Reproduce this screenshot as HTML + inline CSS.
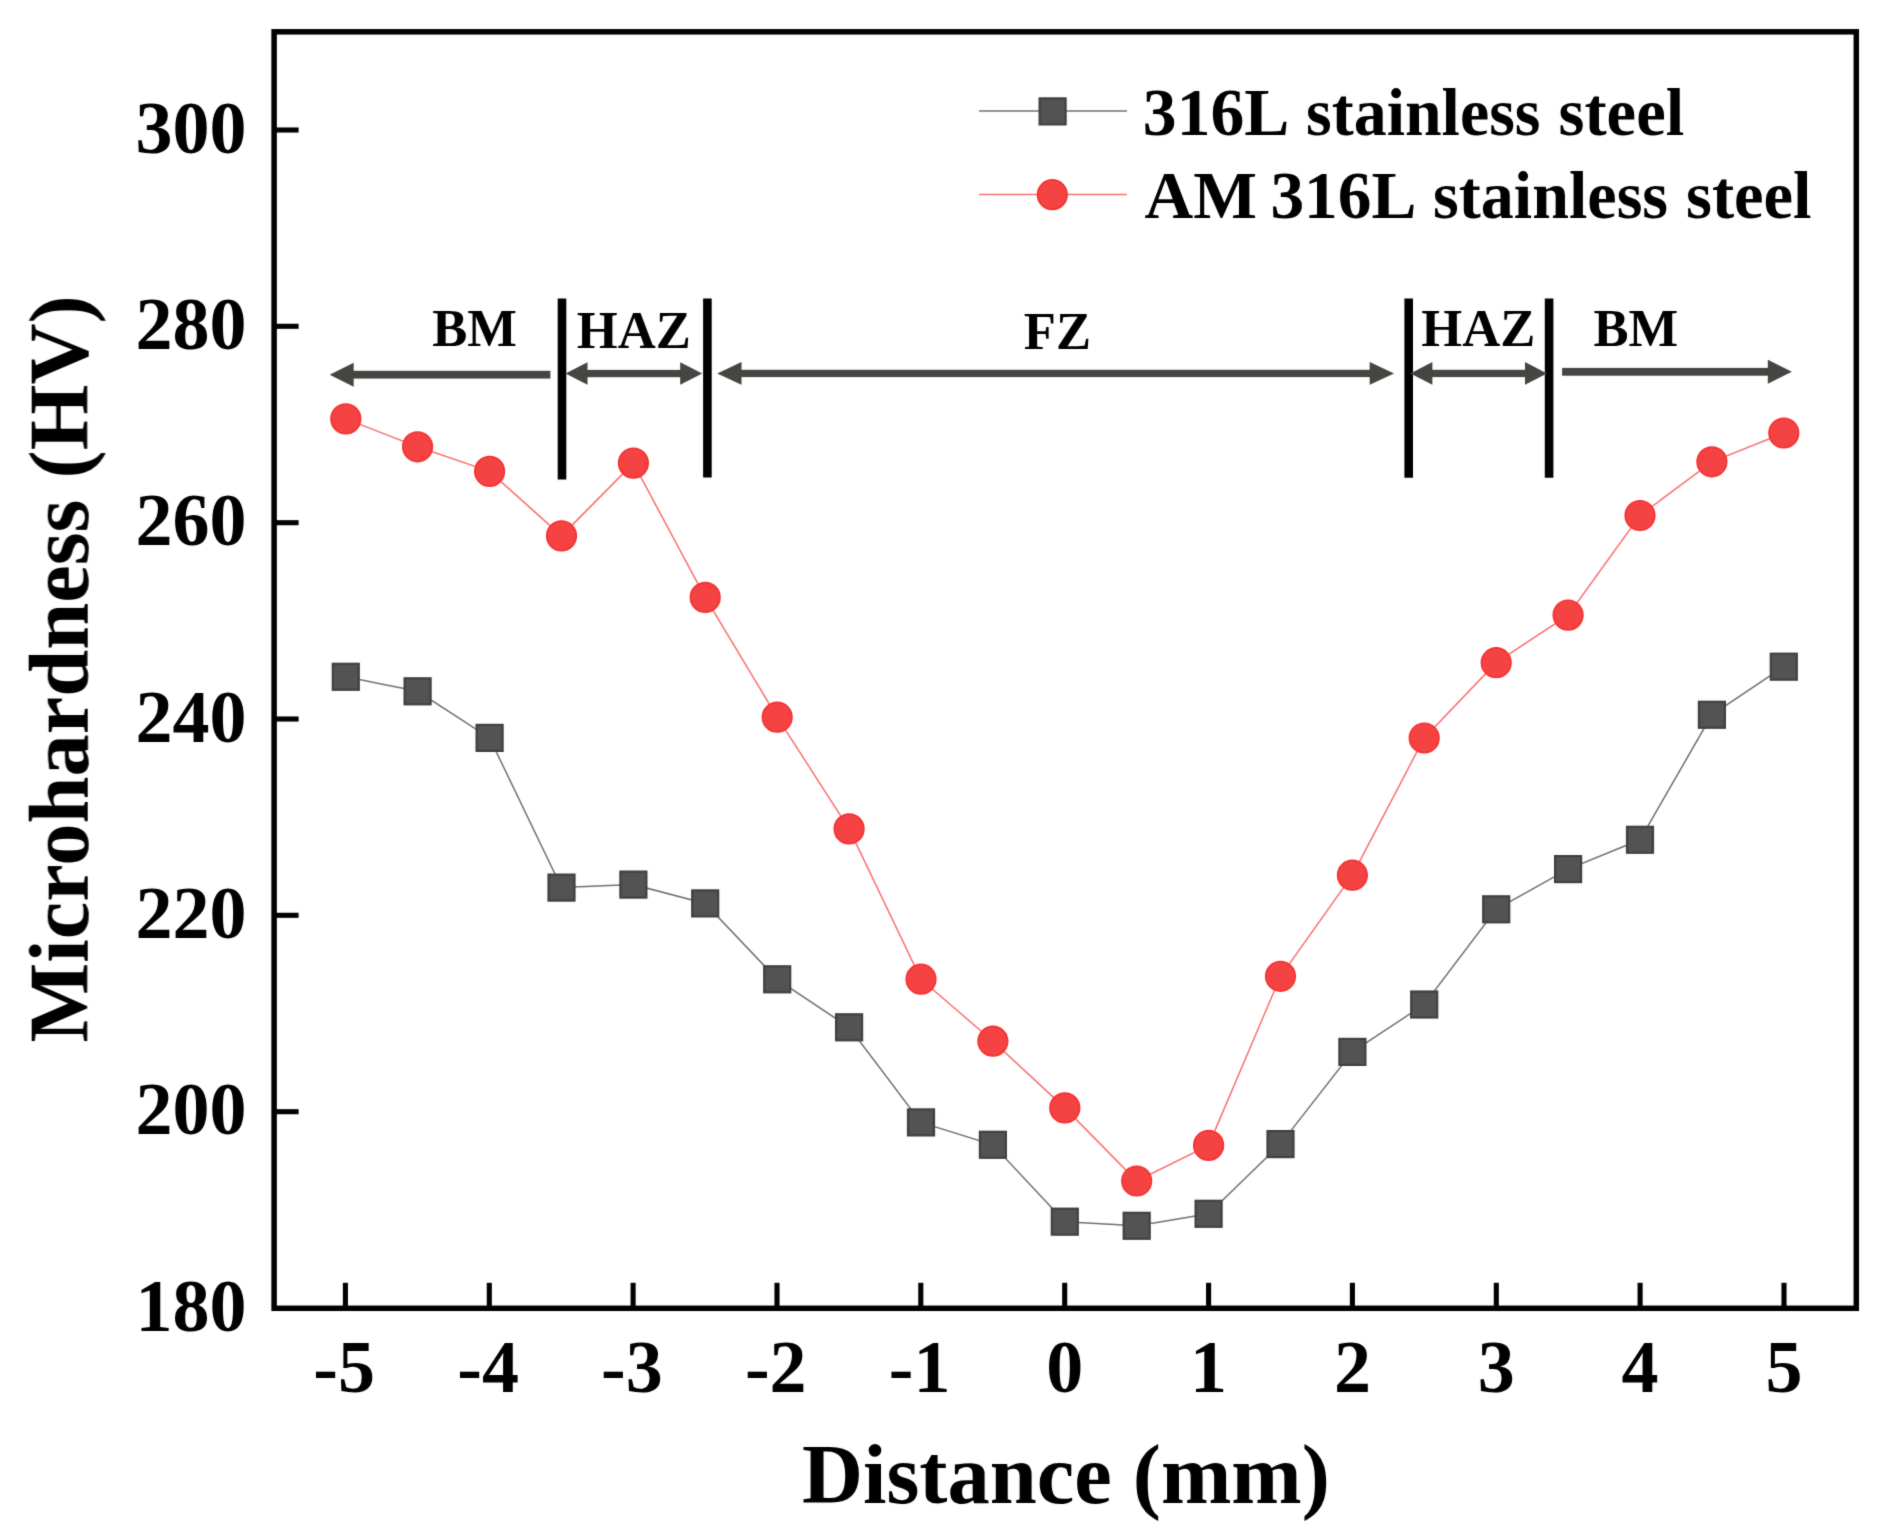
<!DOCTYPE html>
<html lang="en"><head><meta charset="utf-8"><title>Microhardness vs Distance</title>
<style>
html,body{margin:0;padding:0;background:#fff;}
body{width:1885px;height:1535px;overflow:hidden;}
svg{display:block;}
text{font-family:'Liberation Serif',serif;font-weight:bold;fill:#000;}
.tick{font-size:74px;}
.axl{font-size:84.5px;}
.leg{font-size:67px;}
.zone{font-size:52.6px;}
</style></head><body>
<svg width="1885" height="1535" viewBox="0 0 1885 1535">
<defs><filter id="soft" x="0" y="0" width="1885" height="1535" filterUnits="userSpaceOnUse"><feConvolveMatrix order="3" kernelMatrix="1 6 1 6 36 6 1 6 1" divisor="64" edgeMode="duplicate" preserveAlpha="false"/></filter></defs>
<rect x="0" y="0" width="1885" height="1535" fill="#fff"/>
<g filter="url(#soft)">
<rect x="274.1" y="31.8" width="1582.2" height="1276.5" fill="none" stroke="#000" stroke-width="5.5"/>
<g stroke="#000" stroke-width="5.1">
<line x1="274.1" y1="1111.7" x2="298.6" y2="1111.7"/>
<line x1="274.1" y1="915.3" x2="298.6" y2="915.3"/>
<line x1="274.1" y1="719.0" x2="298.6" y2="719.0"/>
<line x1="274.1" y1="522.7" x2="298.6" y2="522.7"/>
<line x1="274.1" y1="326.3" x2="298.6" y2="326.3"/>
<line x1="274.1" y1="130.0" x2="298.6" y2="130.0"/>
<line x1="345.4" y1="1308.3" x2="345.4" y2="1282.8"/>
<line x1="489.3" y1="1308.3" x2="489.3" y2="1282.8"/>
<line x1="633.1" y1="1308.3" x2="633.1" y2="1282.8"/>
<line x1="777.0" y1="1308.3" x2="777.0" y2="1282.8"/>
<line x1="920.8" y1="1308.3" x2="920.8" y2="1282.8"/>
<line x1="1064.7" y1="1308.3" x2="1064.7" y2="1282.8"/>
<line x1="1208.6" y1="1308.3" x2="1208.6" y2="1282.8"/>
<line x1="1352.4" y1="1308.3" x2="1352.4" y2="1282.8"/>
<line x1="1496.3" y1="1308.3" x2="1496.3" y2="1282.8"/>
<line x1="1640.1" y1="1308.3" x2="1640.1" y2="1282.8"/>
<line x1="1784.0" y1="1308.3" x2="1784.0" y2="1282.8"/>
</g>
<g class="tick">
<text x="246.5" y="1330.7" text-anchor="end">180</text>
<text x="246.5" y="1134.4" text-anchor="end">200</text>
<text x="246.5" y="938.0" text-anchor="end">220</text>
<text x="246.5" y="741.7" text-anchor="end">240</text>
<text x="246.5" y="545.4" text-anchor="end">260</text>
<text x="246.5" y="349.0" text-anchor="end">280</text>
<text x="246.5" y="152.7" text-anchor="end">300</text>
<text x="344.2" y="1392.4" text-anchor="middle">-5</text>
<text x="488.1" y="1392.4" text-anchor="middle">-4</text>
<text x="631.9" y="1392.4" text-anchor="middle">-3</text>
<text x="775.8" y="1392.4" text-anchor="middle">-2</text>
<text x="919.6" y="1392.4" text-anchor="middle">-1</text>
<text x="1064.7" y="1392.4" text-anchor="middle">0</text>
<text x="1208.6" y="1392.4" text-anchor="middle">1</text>
<text x="1352.4" y="1392.4" text-anchor="middle">2</text>
<text x="1496.3" y="1392.4" text-anchor="middle">3</text>
<text x="1640.1" y="1392.4" text-anchor="middle">4</text>
<text x="1784.0" y="1392.4" text-anchor="middle">5</text>
</g>
<text class="axl" x="1065.9" y="1503" text-anchor="middle">Distance (mm)</text>
<text class="axl" transform="translate(87.7,669) rotate(-90)" text-anchor="middle">Microhardness (HV)</text>
<polyline points="345.8,676.8 417.6,691.3 489.6,737.9 561.5,887.6 633.4,884.6 705.2,903.4 777.2,979.3 849.1,1027.3 921.0,1122.4 992.9,1144.8 1064.8,1221.7 1136.7,1225.8 1208.6,1213.8 1280.5,1144.1 1352.4,1051.9 1424.2,1004.5 1496.2,909.3 1568.1,869.1 1640.0,839.8 1711.9,714.8 1783.8,666.7" fill="none" stroke="#707070" stroke-width="1.5"/>
<g fill="#525252" stroke="#414141" stroke-width="2.2">
<rect x="332.8" y="663.8" width="26" height="26"/>
<rect x="404.6" y="678.3" width="26" height="26"/>
<rect x="476.6" y="724.9" width="26" height="26"/>
<rect x="548.5" y="874.6" width="26" height="26"/>
<rect x="620.4" y="871.6" width="26" height="26"/>
<rect x="692.2" y="890.4" width="26" height="26"/>
<rect x="764.2" y="966.3" width="26" height="26"/>
<rect x="836.1" y="1014.3" width="26" height="26"/>
<rect x="908.0" y="1109.4" width="26" height="26"/>
<rect x="979.9" y="1131.8" width="26" height="26"/>
<rect x="1051.8" y="1208.7" width="26" height="26"/>
<rect x="1123.7" y="1212.8" width="26" height="26"/>
<rect x="1195.6" y="1200.8" width="26" height="26"/>
<rect x="1267.5" y="1131.1" width="26" height="26"/>
<rect x="1339.4" y="1038.9" width="26" height="26"/>
<rect x="1411.2" y="991.5" width="26" height="26"/>
<rect x="1483.2" y="896.3" width="26" height="26"/>
<rect x="1555.1" y="856.1" width="26" height="26"/>
<rect x="1627.0" y="826.8" width="26" height="26"/>
<rect x="1698.9" y="701.8" width="26" height="26"/>
<rect x="1770.8" y="653.7" width="26" height="26"/>
</g>
<polyline points="345.8,418.9 417.6,446.8 489.6,471.4 561.5,535.9 633.4,463.1 705.2,597.4 777.2,717.2 849.1,828.9 921.0,979.2 992.9,1041.2 1064.8,1107.9 1136.7,1181.0 1208.6,1145.4 1280.5,976.3 1352.4,875.2 1424.2,738.0 1496.2,662.7 1568.1,615.1 1640.0,515.5 1711.9,461.8 1783.8,433.0" fill="none" stroke="#f87070" stroke-width="1.5"/>
<g fill="#f54242" stroke="#f53030" stroke-width="1.6">
<circle cx="345.8" cy="418.9" r="14.8"/>
<circle cx="417.6" cy="446.8" r="14.8"/>
<circle cx="489.6" cy="471.4" r="14.8"/>
<circle cx="561.5" cy="535.9" r="14.8"/>
<circle cx="633.4" cy="463.1" r="14.8"/>
<circle cx="705.2" cy="597.4" r="14.8"/>
<circle cx="777.2" cy="717.2" r="14.8"/>
<circle cx="849.1" cy="828.9" r="14.8"/>
<circle cx="921.0" cy="979.2" r="14.8"/>
<circle cx="992.9" cy="1041.2" r="14.8"/>
<circle cx="1064.8" cy="1107.9" r="14.8"/>
<circle cx="1136.7" cy="1181.0" r="14.8"/>
<circle cx="1208.6" cy="1145.4" r="14.8"/>
<circle cx="1280.5" cy="976.3" r="14.8"/>
<circle cx="1352.4" cy="875.2" r="14.8"/>
<circle cx="1424.2" cy="738.0" r="14.8"/>
<circle cx="1496.2" cy="662.7" r="14.8"/>
<circle cx="1568.1" cy="615.1" r="14.8"/>
<circle cx="1640.0" cy="515.5" r="14.8"/>
<circle cx="1711.9" cy="461.8" r="14.8"/>
<circle cx="1783.8" cy="433.0" r="14.8"/>
</g>
<line x1="979" y1="111.0" x2="1127" y2="111.0" stroke="#707070" stroke-width="1.5"/>
<rect x="1039.6" y="98.4" width="26" height="26" fill="#525252" stroke="#414141" stroke-width="2.2"/>
<line x1="979" y1="194.4" x2="1127" y2="194.4" stroke="#f87070" stroke-width="1.5"/>
<circle cx="1052.3" cy="194.7" r="14.8" fill="#f54242" stroke="#f53030" stroke-width="1.6"/>
<text class="leg" y="134.8" font-size="67"><tspan x="1142.83" textLength="142.79" lengthAdjust="spacingAndGlyphs">316L</tspan> <tspan x="1306.12" textLength="234.34" lengthAdjust="spacingAndGlyphs">stainless</tspan> <tspan x="1558.50" textLength="125.68" lengthAdjust="spacingAndGlyphs">steel</tspan></text>
<text class="leg" y="217.6" font-size="67"><tspan x="1144.62" textLength="112.50" lengthAdjust="spacingAndGlyphs">AM</tspan> <tspan x="1270.44" textLength="142.29" lengthAdjust="spacingAndGlyphs">316L</tspan> <tspan x="1433.02" textLength="235.06" lengthAdjust="spacingAndGlyphs">stainless</tspan> <tspan x="1686.00" textLength="125.58" lengthAdjust="spacingAndGlyphs">steel</tspan></text>
<g stroke="#000" stroke-width="8.6">
<line x1="562.0" y1="298.5" x2="562.0" y2="479.5"/>
<line x1="707.4" y1="298.5" x2="707.4" y2="477.5"/>
<line x1="1408.7" y1="298.5" x2="1408.7" y2="477.7"/>
<line x1="1549.1" y1="298.5" x2="1549.1" y2="477.7"/>
</g>
<g fill="#444442">
<rect x="352.7" y="370.8" width="197.7" height="7.8"/><polygon points="329.7,374.7 353.7,362.7 353.7,386.7"/>
<rect x="586.5" y="369.9" width="94.7" height="7.3"/><polygon points="565.5,373.5 587.5,362.2 587.5,384.8"/><polygon points="702.2,373.5 680.2,362.2 680.2,384.8"/>
<rect x="740.5" y="369.8" width="630.2" height="7.3"/><polygon points="717.2,373.4 741.5,362.1 741.5,384.7"/><polygon points="1394.0,373.4 1369.7,362.1 1369.7,384.7"/>
<rect x="1431.4" y="369.8" width="94.6" height="7.3"/><polygon points="1410.4,373.4 1432.4,362.1 1432.4,384.7"/><polygon points="1547.0,373.4 1525.0,362.1 1525.0,384.7"/>
<rect x="1562.1" y="367.9" width="206.7" height="7.8"/><polygon points="1791.8,371.8 1767.8,359.8 1767.8,383.8"/>
</g>
<g class="zone" text-anchor="middle">
<text x="474.5" y="346.3">BM</text>
<text x="633.8" y="348">HAZ</text>
<text x="1057.4" y="349">FZ</text>
<text x="1478.3" y="346.3">HAZ</text>
<text x="1635.9" y="346.3">BM</text>
</g>
</g></svg></body></html>
